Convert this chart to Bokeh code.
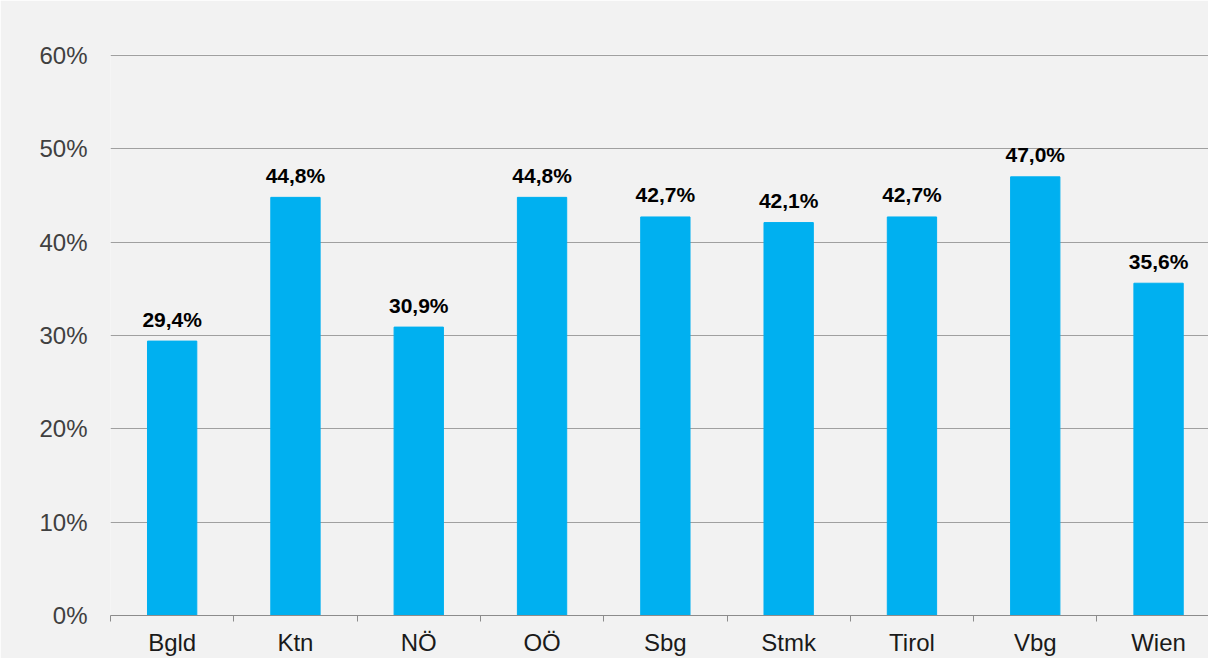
from bokeh.plotting import figure
from bokeh.models import Range1d, FixedTicker, ColumnDataSource
from bokeh.core.properties import value
from bokeh.embed import file_html
from bokeh.resources import INLINE

categories = ["Bgld", "Ktn", "NÖ", "OÖ", "Sbg", "Stmk", "Tirol", "Vbg", "Wien"]
values = [29.4, 44.8, 30.9, 44.8, 42.7, 42.1, 42.7, 47.0, 35.6]
labels = ["29,4%", "44,8%", "30,9%", "44,8%", "42,7%", "42,1%", "42,7%", "47,0%", "35,6%"]
y_ticks = [0, 10, 20, 30, 40, 50, 60]

x = [i + 0.5 for i in range(len(categories))]
src = ColumnDataSource(dict(x=x, top=values, lab=labels))

p = figure(width=1208, height=658, output_backend="svg", toolbar_location=None,
           x_range=Range1d(0, 8.905), y_range=Range1d(0, 60.107),
           min_border_left=110, min_border_right=0, min_border_top=54, min_border_bottom=41)
p.background_fill_color = "#f2f2f2"
p.border_fill_color = "#f2f2f2"
p.outline_line_color = None

p.vbar(x="x", top="top", width=0.4, bottom=0, source=src, color="#00b0f0")
p.text(x="x", y="top", text="lab", source=src, text_align="center", text_baseline="alphabetic",
       y_offset=-22, text_font=value("Liberation Sans"), text_font_style="bold",
       text_font_size="21px", text_color="#000000")

p.xaxis.ticker = FixedTicker(ticks=x, minor_ticks=list(range(len(categories) + 1)))
p.xaxis.major_label_overrides = {xi: c for xi, c in zip(x, categories)}
p.xaxis.major_tick_line_color = None
p.xaxis.minor_tick_out = 6
p.xaxis.minor_tick_in = 0
p.xaxis.minor_tick_line_color = "#8c8c8c"
p.xaxis.axis_line_color = "#8c8c8c"
p.xaxis.major_label_standoff = 7
p.xaxis.major_label_text_font = "Liberation Sans"
p.xaxis.major_label_text_font_size = "24px"
p.xaxis.major_label_text_color = "#1a1a1a"

p.yaxis.ticker = FixedTicker(ticks=y_ticks)
p.yaxis.major_label_overrides = {t: f"{t}%" for t in y_ticks}
p.yaxis.axis_line_color = None
p.yaxis.major_tick_line_color = None
p.yaxis.minor_tick_line_color = None
p.yaxis.major_label_standoff = 17
p.yaxis.major_label_text_font = "Liberation Sans"
p.yaxis.major_label_text_font_size = "24px"
p.yaxis.major_label_text_color = "#404040"

p.xgrid.grid_line_color = None
p.ygrid.grid_line_color = "#a0a0a0"
p.ygrid.grid_line_width = 1

open("out.html", "w").write(file_html(p, INLINE))
